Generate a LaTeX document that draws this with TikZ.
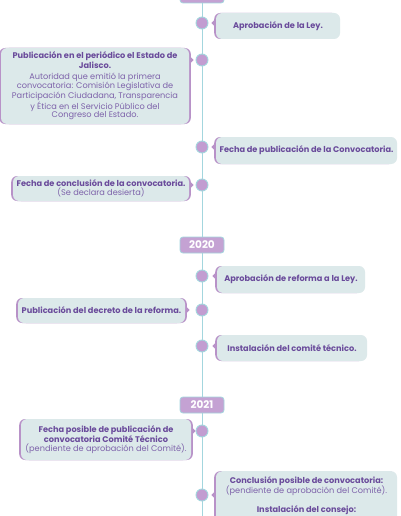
\documentclass[tikz,border=0pt]{standalone}
\usepackage{fontspec}
\setmainfont{Poppins}
\usepackage{tikz}
\usetikzlibrary{positioning,calc,backgrounds,shadows}

\definecolor{linec}{HTML}{A3D6DE}
\definecolor{dotc}{HTML}{C29DD1}
\definecolor{boxc}{HTML}{DCE9EA}
\definecolor{accent}{HTML}{B892C8}
\definecolor{headc}{HTML}{6A4B9B}
\definecolor{bodyc}{HTML}{7D62AA}
\definecolor{yearc}{HTML}{C4A2D3}

\begin{document}
\begin{tikzpicture}[x=1pt, y=-1pt,
  rbox/.style={fill=boxc, rounded corners=6pt, align=center, inner sep=2pt,
    font=\fontsize{8.2}{8.6}\selectfont, text=bodyc,
    general shadow={fill=accent, shadow xshift=-1.8pt, shadow yshift=0pt}},
  lbox/.style={rbox, general shadow={fill=accent, shadow xshift=1.8pt, shadow yshift=0pt}},
  year/.style={draw=linec, line width=0.8pt, fill=yearc, rounded corners=3pt,
    minimum width=44pt, minimum height=16pt, inner sep=0pt, text=white,
    font=\fontsize{10.5}{12}\selectfont\bfseries},
  dot/.style={circle, draw=linec, line width=0.9pt, fill=dotc, minimum size=12pt, inner sep=0pt},
  tip/.style={fill=accent}]
\useasboundingbox (0,0) rectangle (400,516);
\newcommand{\hd}[1]{{\bfseries\color{headc}#1}}

% years
\node[year] (y19) at (202,-5) {};
\node[year] (y20) at (202,245) {2020};
\node[year] (y21) at (202,405) {2021};
\coordinate (bottom) at (202,520);

% dots on the line
\node[dot] (d1) at (202,23) {};
\node[dot] (d2) at (202,60) {};
\node[dot] (d3) at (202,147) {};
\node[dot] (d4) at (202,185) {};
\node[dot] (d5) at (202,276) {};
\node[dot] (d6) at (202,310) {};
\node[dot] (d7) at (202,346) {};
\node[dot] (d8) at (202,431) {};
\node[dot] (d9) at (202,495) {};

% boxes
\node[rbox, minimum width=124pt, minimum height=26pt] (b1) at (278,26) {\hd{Aprobación de la Ley.}};
\node[lbox, minimum width=188pt, minimum height=76pt] (b2) at (95,86)
  {\hd{Publicación en el periódico el Estado de}\\ \hd{Jalisco.}\\[2pt]
   Autoridad que emitió la primera\\ convocatoria: Comisión Legislativa de\\
   Participación Ciudadana, Transparencia\\ y Ética en el Servicio Público del\\
   Congreso del Estado.};
\node[rbox, minimum width=181pt, minimum height=27pt] (b3) at (306.5,150.5) {\hd{Fecha de publicación de la Convocatoria.}};
\node[lbox, minimum width=176pt, minimum height=25pt] (b4) at (101,188.5)
  {\hd{Fecha de conclusión de la convocatoria.}\\ (Se declara desierta)};
\node[rbox, minimum width=148pt, minimum height=27pt] (b5) at (291,279.5) {\hd{Aprobación de reforma a la Ley.}};
\node[lbox, minimum width=167pt, minimum height=25pt] (b6) at (101.5,310.5) {\hd{Publicación del decreto de la reforma.}};
\node[rbox, minimum width=150pt, minimum height=26pt] (b7) at (292,348) {\hd{Instalación del comité técnico.}};
\node[lbox, minimum width=170pt, minimum height=41pt] (b8) at (106,439.5)
  {\hd{Fecha posible de publicación de}\\ \hd{convocatoria Comité Técnico}\\ (pendiente de aprobación del Comité).};
\node[rbox, minimum width=181pt, anchor=north, inner ysep=5pt] (b9) at (306.5,471)
  {\hd{Conclusión posible de convocatoria:}\\ (pendiente de aprobación del Comité).\\[8.6pt]
   \hd{Instalación del consejo:}\\ \strut\\ \strut};

% pointers
\foreach \b/\d in {b1/d1,b3/d3,b5/d5,b7/d7,b9/d9}
  \fill[tip] ($(\d -| \b.west)+(-1.5,-3)$) -- ++(-3,3) -- ++(3,3) -- cycle;
\foreach \b/\d in {b2/d2,b4/d4,b6/d6,b8/d8}
  \fill[tip] ($(\d -| \b.east)+(1.5,-3)$) -- ++(3,3) -- ++(-3,3) -- cycle;

% timeline
\begin{scope}[on background layer]
  \fill[white] (0,0) rectangle (400,516);
  \draw[linec, line width=1pt] (y19) -- (y20) -- (y21) -- (bottom);
\end{scope}
\end{tikzpicture}
\end{document}
